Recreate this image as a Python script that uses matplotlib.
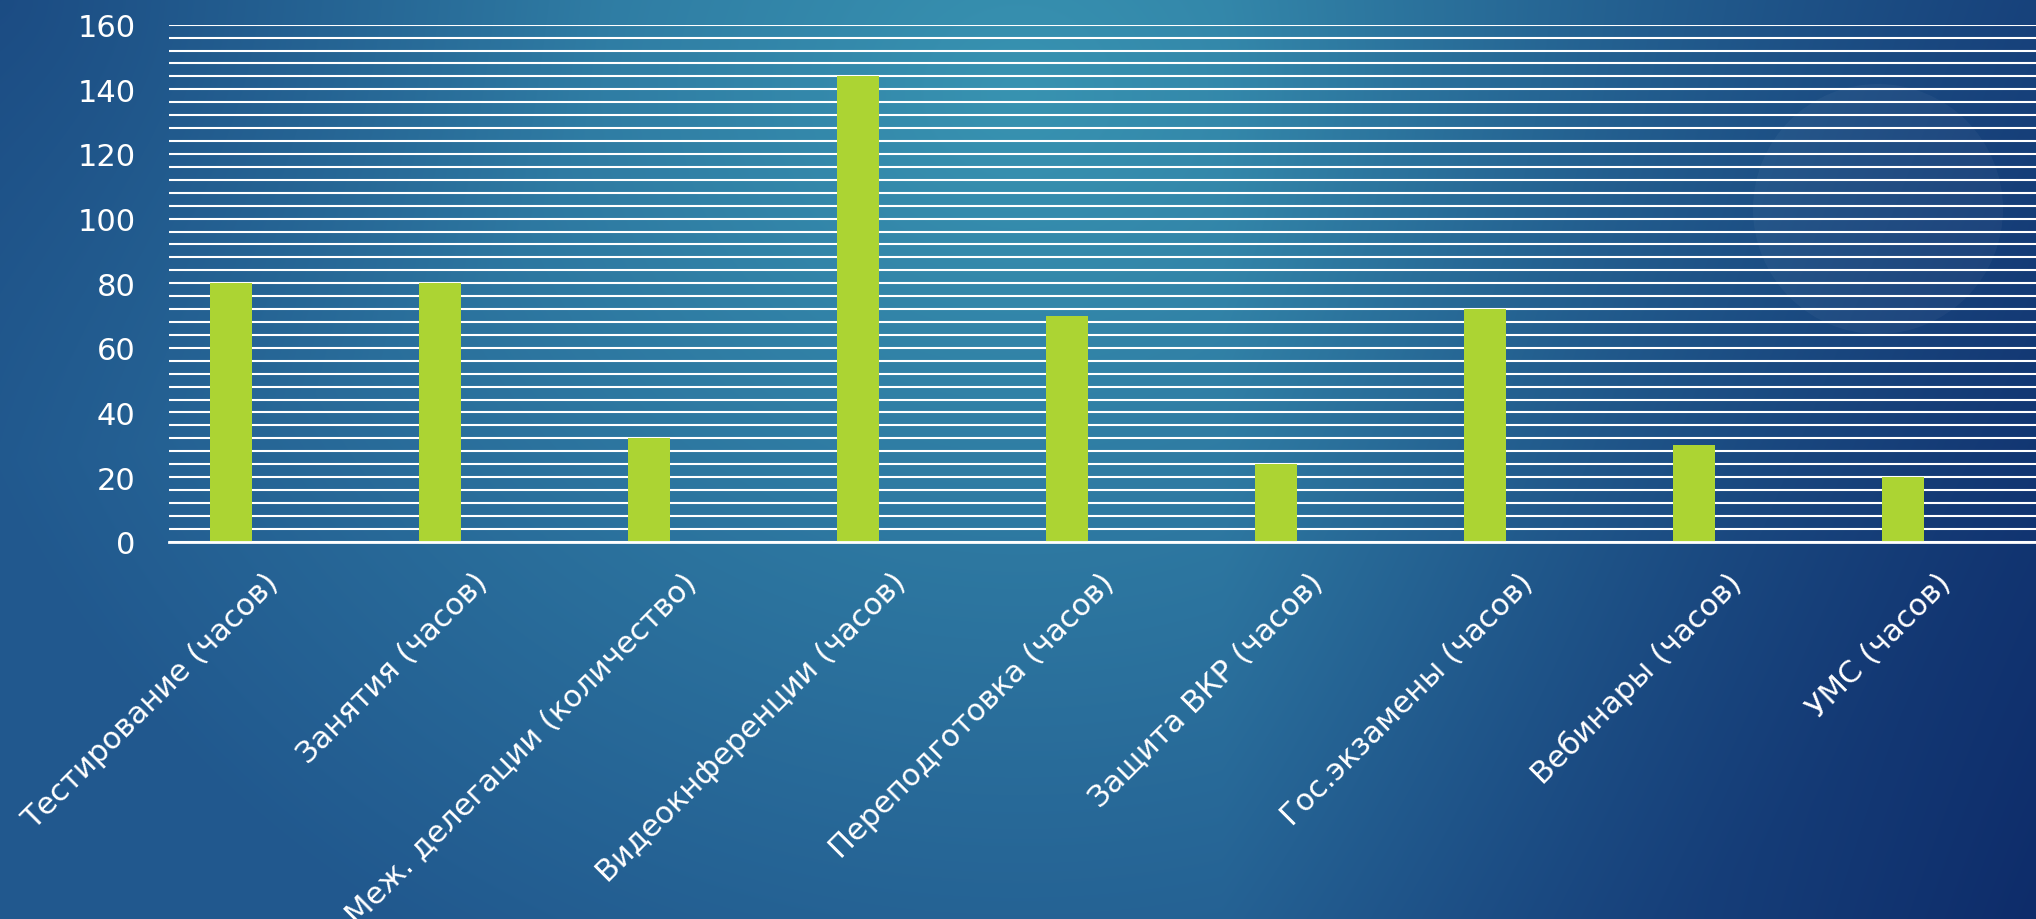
import numpy as np
import matplotlib
matplotlib.use("Agg")
import matplotlib.pyplot as plt
import matplotlib.transforms as mtransforms
from matplotlib.patches import Circle

categories = ["Тестирование (часов)", "Занятия (часов)", "Меж. делегации (количество)",
              "Видеокнференции (часов)", "Переподготовка (часов)", "Защита ВКР (часов)",
              "Гос.экзамены (часов)", "Вебинары (часов)", "УМС (часов)"]
values = [80, 80, 32, 144, 70, 24, 72, 30, 20]
yticks = [0, 20, 40, 60, 80, 100, 120, 140, 160]

plt.rcParams['font.family'] = ['DejaVu Sans']

W, H = 2036, 920
fig = plt.figure(figsize=(W / 100, H / 100), dpi=100)

# background gradient (slide style)
bg = fig.add_axes([0, 0, 1, 1])
yy, xx = np.mgrid[0:H, 0:W]
xn = xx / W
yn = yy / H
glow = np.array([56, 147, 177]) / 255
mid = np.array([33, 88, 142]) / 255
dark = np.array([14, 44, 106]) / 255
d = np.clip(np.sqrt(((xn - 0.5) / 0.55) ** 2 + ((yn - 0.1) / 1.1) ** 2), 0, 1)[..., None]
img = glow * (1 - d) + mid * d
k = np.clip((xn - 0.6) / 0.4, 0, 1) * (0.55 + 0.45 * yn)
k = np.clip(k + 0.35 * np.clip(1 - np.hypot(xn / 0.3, yn / 0.5), 0, 1), 0, 1)[..., None]
img = img * (1 - k) + dark * k
bg.imshow(img, extent=[0, W, H, 0], aspect='auto')
bg.add_patch(Circle((1878, 210), 125, color='white', alpha=0.035, lw=0))
bg.set_xlim(0, W)
bg.set_ylim(H, 0)
bg.axis('off')

ax = fig.add_axes([169 / W, 1 - 542.7 / H, 1 - 169 / W, (542.7 - 25.7) / H])
ax.set_facecolor('none')
x = np.arange(len(categories))
ax.bar(x, values, width=0.2, color='#acd433', zorder=3)
ax.set_xlim(-0.297, 8.636)
ax.set_ylim(0, 160)

ax.set_yticks(yticks)
ax.set_yticks(np.arange(0, 161, 4), minor=True)
ax.grid(True, which='both', axis='y', color='white', lw=1.5, zorder=1)
ax.tick_params(axis='y', which='both', length=0, pad=24, labelsize=22, labelcolor='white')
ax.tick_params(axis='x', length=0, labelsize=22, labelcolor='white')

for s in ['top', 'right', 'left']:
    ax.spines[s].set_visible(False)
ax.spines['bottom'].set_color('white')
ax.spines['bottom'].set_linewidth(2)
ax.spines['bottom'].set_zorder(4)

ax.set_xticks(x, categories, rotation=45, ha='right', va='center', rotation_mode='anchor')
offset = mtransforms.ScaledTranslation(0.43, -0.31, fig.dpi_scale_trans)
for lab in ax.get_xticklabels():
    lab.set_transform(lab.get_transform() + offset)

fig.savefig("out.png", dpi=100)
